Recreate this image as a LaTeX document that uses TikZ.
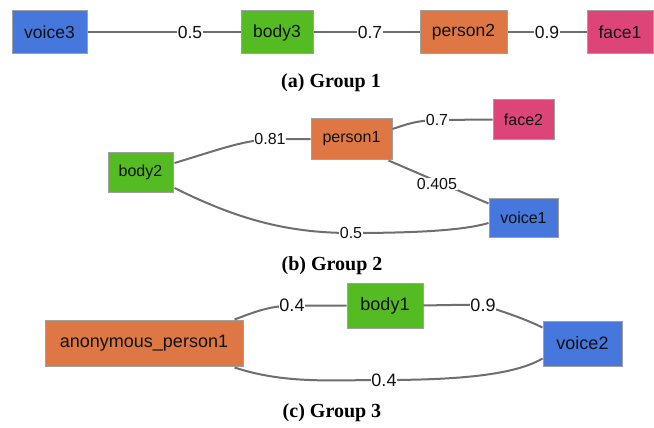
\documentclass[tikz,border=0pt]{standalone}
\usepackage{fontspec}
\newfontfamily\nodefont{Liberation Sans}
\newfontfamily\capfont{Liberation Serif}
\usetikzlibrary{calc}
\definecolor{cvoice}{HTML}{4677DD}
\definecolor{cbody}{HTML}{55BB22}
\definecolor{cperson}{HTML}{DE7744}
\definecolor{cface}{HTML}{DD4477}
\definecolor{cborder}{HTML}{A0A0A0}
\definecolor{cedge}{HTML}{6E6E6E}
\definecolor{ctext}{HTML}{111111}
\tikzset{
  box/.style={rectangle, draw=cborder, line width=1pt, inner sep=0pt, text=ctext, font=\nodefont},
  ga/.style={font=\nodefont\fontsize{17.5}{20}\selectfont},
  gb/.style={font=\nodefont\fontsize{16}{19}\selectfont},
  gc/.style={font=\nodefont\fontsize{18}{21}\selectfont},
  lbl/.style={fill=white, inner sep=0.5pt, text=ctext},
  conn/.style={draw=cedge, line width=2pt},
  captxt/.style={font=\capfont\bfseries\fontsize{20}{23}\selectfont, text=black}
}
\begin{document}
\begin{tikzpicture}[x=1pt, y=-1pt]
\useasboundingbox (0,0) rectangle (654,428);
% Group 1
\node[box, ga, fill=cvoice, minimum width=75pt, minimum height=43pt] (voice3) at (49.5,32.5) {voice3};
\node[box, ga, fill=cbody, minimum width=72pt, minimum height=43pt] (body3) at (277,32.5) {body3};
\node[box, ga, fill=cperson, minimum width=87pt, minimum height=43pt] (person2) at (463.5,32.5) {person2};
\node[box, ga, fill=cface, minimum width=66pt, minimum height=43pt] (face1) at (620,32.5) {face1};
\draw[conn] (voice3) -- (190,32.5) node[lbl, ga] (l1) {0.5} -- (body3);
\draw[conn] (body3) -- (370,32.5) node[lbl, ga] (l2) {0.7} -- (person2);
\draw[conn] (person2) -- (547,32.5) node[lbl, ga] (l3) {0.9} -- (face1);
\node[captxt] (capa) at (331,83) {(a) Group 1};
% Group 2
\node[box, gb, fill=cbody, minimum width=65pt, minimum height=40pt] (body2) at (140.5,172) {body2};
\node[box, gb, fill=cperson, minimum width=81pt, minimum height=40pt] (person1) at (351.5,139) {person1};
\node[box, gb, fill=cface, minimum width=61pt, minimum height=39pt] (face2) at (523.5,119.5) {face2};
\node[box, gb, fill=cvoice, minimum width=69pt, minimum height=39pt] (voice1) at (523.5,217.5) {voice1};
\draw[conn] ($(body2.east)+(1,-9)$) .. controls (215,151) and (240,141) .. (270,139) node[lbl, gb] (l4) {0.81} -- (person1.west);
\draw[conn] ($(person1.east)+(0,-10)$) .. controls (405,125) and (415,120.5) .. (437,120) node[lbl, gb] (l5) {0.7} -- (face2.west);
\draw[conn] ($(person1.south east)+(-4,1)$) -- ($(voice1.north west)+(0,6)$);
\node[lbl, gb] (l6) at (437,184) {0.405};
\draw[conn] ($(body2.east)+(1,16)$) .. controls (235,218) and (285,233) .. (351,233) node[lbl, gb] (l7) {0.5} .. controls (420,233) and (465,230) .. ($(voice1.west)+(0,5.5)$);
\node[captxt] (capb) at (332,266) {(b) Group 2};
% Group 3
\node[box, gc, fill=cperson, minimum width=198pt, minimum height=46pt] (anon) at (144,343) {anonymous\_person1};
\node[box, gc, fill=cbody, minimum width=76pt, minimum height=45pt] (body1) at (385,305.5) {body1};
\node[box, gc, fill=cvoice, minimum width=79pt, minimum height=45pt] (voice2) at (582.5,343.5) {voice2};
\draw[conn] ($(anon.north east)+(-9,0)$) .. controls (252,313) and (268,306) .. (292,305.5) node[lbl, gc] (l8) {0.4} -- (body1.west);
\draw[conn] (body1.east) .. controls (450,305) and (468,304.5) .. (483,305.5) node[lbl, gc] (l9) {0.9} .. controls (505,312) and (525,319) .. ($(voice2.north west)+(0,7)$);
\draw[conn] ($(anon.south east)+(-9,1)$) .. controls (285,384) and (330,380) .. (384,380) node[lbl, gc] (l10) {0.4} .. controls (470,380) and (518,373) .. ($(voice2.south west)+(0,-8)$);
\node[captxt] (capc) at (332,413) {(c) Group 3};
\end{tikzpicture}
\end{document}
